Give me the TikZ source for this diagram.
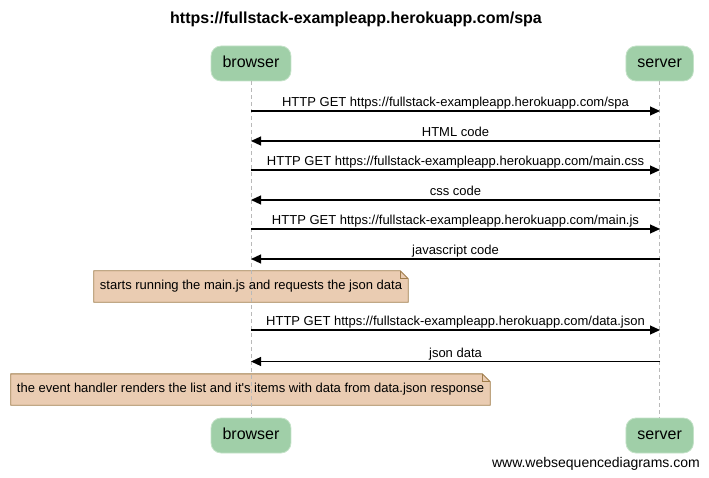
\documentclass[tikz,border=0pt]{standalone}
\usepackage{fontspec}
\setmainfont{Liberation Sans}
\newfontfamily\wsdfont{Liberation Sans}
\usetikzlibrary{arrows.meta,backgrounds}
\definecolor{partfill}{RGB}{160,207,168}
\definecolor{partdraw}{RGB}{196,226,200}
\definecolor{notefill}{RGB}{234,204,178}
\definecolor{notedraw}{RGB}{160,125,75}
\definecolor{lifegray}{RGB}{185,185,185}
\tikzset{
  part/.style={fill=partfill, draw=partdraw, line width=0.8pt, rounded corners=10pt,
    minimum height=35pt, inner xsep=11.5pt, inner ysep=0pt,
    text height=12pt, text depth=3.5pt,
    font=\wsdfont\fontsize{16}{19}\selectfont},
  life/.style={draw=lifegray, line width=1pt, dash pattern=on 4pt off 3pt},
  msg/.style={draw=black, line width=1.2pt, -{Triangle[length=10pt,width=9pt]}},
  lbl/.style={midway, anchor=base, yshift=4.3pt, inner sep=0pt,
    font=\wsdfont\fontsize{13}{15}\selectfont},
  notetext/.style={inner xsep=6pt, inner ysep=0pt, minimum height=31pt,
    font=\wsdfont\fontsize{13}{15}\selectfont},
  noteshape/.style={fill=notefill, draw=notedraw, line width=0.9pt},
}
\newcommand{\notebox}[1]{%
  \begin{scope}[on background layer]
    \path[noteshape] (#1.north west) -- ([xshift=-8pt]#1.north east)
      -- ([yshift=-8pt]#1.north east) -- (#1.south east) -- (#1.south west) -- cycle;
  \end{scope}
  \draw[notedraw, line width=0.9pt] ([xshift=-8pt]#1.north east)
    -- ([xshift=-8pt,yshift=-8pt]#1.north east) -- ([yshift=-8pt]#1.north east);
}
\begin{document}
\begin{tikzpicture}[x=1pt,y=-1pt]
\useasboundingbox (0,0) rectangle (709,478);
% title
\node[font=\wsdfont\bfseries\fontsize{16}{19}\selectfont, inner sep=0pt] (title) at (356,19) {https://fullstack-exampleapp.herokuapp.com/spa};
% participants
\node[part] (bt) at (251,63.5) {browser};
\node[part] (st) at (659.7,63.5) {server};
\node[part] (bb) at (251,435.5) {browser};
\node[part] (sb) at (659.7,435.5) {server};
% lifelines
\draw[life] (bt.south) -- (bb.north);
\draw[life] (st.south) -- (sb.north);
% message anchors
\coordinate (b1) at (251,111);   \coordinate (s1) at (660,111);
\coordinate (b2) at (251,141);   \coordinate (s2) at (660,141);
\coordinate (b3) at (251,170);   \coordinate (s3) at (660,170);
\coordinate (b4) at (251,200);   \coordinate (s4) at (660,200);
\coordinate (b5) at (251,229);   \coordinate (s5) at (660,229);
\coordinate (b6) at (251,259);   \coordinate (s6) at (660,259);
\coordinate (b7) at (251,330);   \coordinate (s7) at (660,330);
\coordinate (b8) at (251,361.5); \coordinate (s8) at (660,361.5);
% messages
\draw[msg] (b1) -- node[lbl]{HTTP GET https://fullstack-exampleapp.herokuapp.com/spa} (s1);
\draw[msg] (s2) -- node[lbl]{HTML code} (b2);
\draw[msg] (b3) -- node[lbl]{HTTP GET https://fullstack-exampleapp.herokuapp.com/main.css} (s3);
\draw[msg] (s4) -- node[lbl]{css code} (b4);
\draw[msg] (b5) -- node[lbl]{HTTP GET https://fullstack-exampleapp.herokuapp.com/main.js} (s5);
\draw[msg] (s6) -- node[lbl]{javascript code} (b6);
\draw[msg] (b7) -- node[lbl]{HTTP GET https://fullstack-exampleapp.herokuapp.com/data.json} (s7);
\draw[msg] (s8) -- node[lbl]{json data} (b8);
% notes
\node[notetext] (n1) at (251,286.5) {starts running the main.js and requests the json data};
\notebox{n1}
\node[notetext] (n2) at (250.5,389.5) {the event handler renders the list and it's items with data from data.json response};
\notebox{n2}
% watermark
\node[anchor=base east, inner sep=0pt, font=\wsdfont\fontsize{14}{17}\selectfont] (wm) at (700,467) {www.websequencediagrams.com};
\end{tikzpicture}
\end{document}
